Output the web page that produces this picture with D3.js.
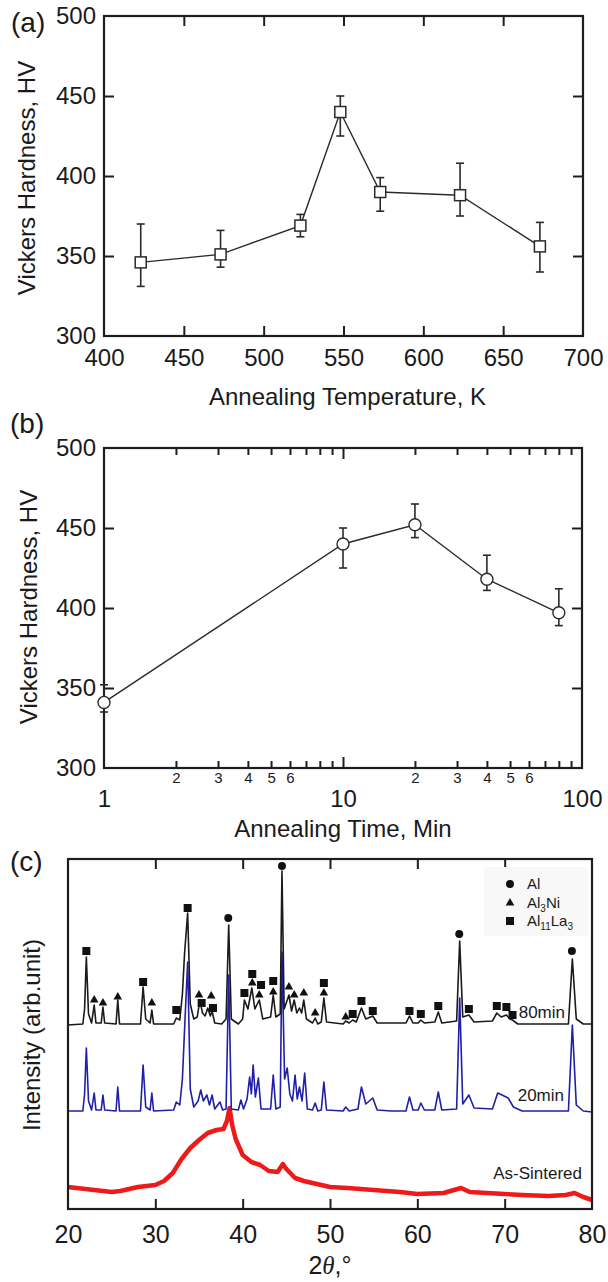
<!DOCTYPE html>
<html><head><meta charset="utf-8">
<script src="https://cdn.jsdelivr.net/npm/d3@7"></script>
<style>
html,body{margin:0;padding:0;background:#fff;}
svg text{font-family:"Liberation Sans",Arial,sans-serif;fill:#1a1a1a;}
</style></head>
<body>
<script>
// ---------- Panel (a) data ----------
const tempK = [423, 473, 523, 548, 573, 623, 673];
const hvTemp = [346, 351, 369, 440, 390, 388, 356];
const hvTempLo = [331, 343, 362, 425, 378, 375, 340];
const hvTempHi = [370, 366, 376, 450, 399, 408, 371];
const tempTicks = [400, 450, 500, 550, 600, 650, 700];
const hvTicks = [300, 350, 400, 450, 500];

// ---------- Panel (b) data ----------
const timeMin = [1, 10, 20, 40, 80];
const hvTime = [341, 440, 452, 418, 397];
const hvTimeLo = [335, 425, 444, 411, 389];
const hvTimeHi = [352, 450, 465, 433, 412];
const timeMajor = [1, 10, 100];
const timeMinor = [2, 3, 4, 5, 6, 7, 8, 9, 20, 30, 40, 50, 60, 70, 80, 90];
const timeMinorLabels = [2, 3, 4, 5, 6, 20, 30, 40, 50, 60];

// ---------- Panel (c) data (2theta, intensity arb.) ----------
const xrd80 = [[20,184],[21.7,185],[21.9,200],[22.1,252],[22.35,195],[22.7,186],[23.0,204],[23.2,186],[23.8,186],[24.0,202],[24.2,186],[25.5,185],[25.7,209],[25.9,185],[28.3,185],[28.6,222],[28.9,190],[29.4,186],[29.6,199],[29.8,185],[32.1,185],[32.4,191],[32.8,189],[33.1,215],[33.35,256],[33.7,296],[34.0,205],[34.4,190],[34.8,192],[35.1,209],[35.4,196],[35.7,193],[36.0,201],[36.3,193],[36.5,198],[36.8,186],[37.6,185],[38.1,190],[38.4,284],[38.7,190],[39.5,185],[40.0,190],[40.2,209],[40.6,200],[41.05,221],[41.4,200],[41.9,209],[42.3,190],[43.2,192],[43.5,214],[43.8,192],[44.3,195],[44.5,338],[44.75,200],[45.3,214],[45.6,198],[45.9,209],[46.2,196],[46.5,201],[46.75,196],[47.0,209],[47.3,190],[48.0,186],[48.3,191],[48.6,185],[49.0,187],[49.3,211],[49.6,187],[51.5,185],[51.8,188],[52.2,186],[52.6,189],[53.0,187],[53.6,201],[54.1,190],[54.9,193],[55.4,186],[58.7,186],[59.1,193],[59.5,186],[60.1,186],[60.4,189],[60.8,186],[62.0,187],[62.4,197],[62.8,186],[64.5,188],[64.85,268],[65.2,192],[65.9,194],[66.5,187],[68.6,188],[69.1,196],[69.6,192],[70.2,194],[70.6,190],[70.9,189],[71.5,185],[77.3,185],[77.75,250],[78.2,190],[79,185],[80,185]];
const xrd20 = [[20,98],[21.7,98],[21.9,115],[22.1,161],[22.35,108],[22.7,99],[23.0,116],[23.2,99],[23.8,99],[24.0,114],[24.2,99],[25.5,98],[25.7,122],[25.9,98],[28.3,98],[28.6,144],[28.9,102],[29.4,99],[29.6,116],[29.8,98],[32.1,99],[32.4,107],[32.8,104],[33.1,130],[33.4,190],[33.7,247],[34.0,120],[34.4,102],[34.9,108],[35.2,119],[35.5,108],[35.9,114],[36.2,104],[36.5,114],[36.8,100],[37.4,107],[37.7,99],[38.1,100],[38.4,234],[38.7,100],[39.5,99],[39.8,109],[40.1,100],[40.5,110],[40.8,132],[41.0,115],[41.2,144],[41.45,112],[41.8,131],[42.1,100],[43.2,100],[43.5,134],[43.8,100],[44.3,102],[44.5,257],[44.8,130],[45.1,141],[45.4,115],[45.7,108],[46.0,134],[46.25,110],[46.5,122],[46.8,108],[47.1,136],[47.4,100],[48.0,99],[48.3,106],[48.6,98],[49.0,99],[49.3,127],[49.6,99],[51.5,98],[51.8,102],[52.2,98],[53.2,100],[53.6,122],[54.1,105],[54.9,111],[55.4,99],[57,98],[58.7,98],[59.1,112],[59.5,99],[60.1,99],[60.4,106],[60.8,99],[62.0,99],[62.4,117],[62.8,99],[64.5,100],[64.85,211],[65.2,105],[65.9,114],[66.5,101],[68.6,100],[69.2,116],[69.7,114],[70.4,111],[71.0,102],[72,98],[77.3,98],[77.75,184],[78.2,104],[79,98],[80,97]];
const xrdSintered = [[20,22],[21,21],[22,20],[23,19],[24,18],[25,17],[26,18],[27,20],[28,22],[29,23],[30,24],[31,28],[32,36],[33,50],[34,61],[35,69],[36,76],[37,79],[37.8,80],[38.2,88],[38.5,101],[38.8,84],[39.2,70],[40,54],[41,47],[42,44],[43,38],[44,37],[44.6,45],[45,40],[46,31],[47,28],[48,26],[50,22],[52,21],[55,19],[58,17],[60,15],[63,16],[65,21],[66,17],[68,16],[70,15],[72,14],[75,13],[77,14],[78,16],[79,12],[80,9]];
const markAl = [[38.35,291],[44.5,343],[64.8,275],[77.7,258]];
const markAl3Ni = [[23.0,209],[24.0,206],[25.7,212],[29.6,206],[35.0,214],[36.4,213],[41.1,226],[41.9,214],[43.5,217],[45.3,222],[45.9,214],[47.0,216],[48.3,196],[49.3,216],[51.8,192]];
const markAl11La3 = [[22.1,258],[28.6,227],[32.4,199],[33.7,301],[35.3,206],[36.6,201],[40.2,216],[41.1,235],[42.1,224],[43.5,228],[49.3,226],[52.6,195],[53.6,208],[54.9,198],[59.1,198],[60.4,195],[62.4,203],[65.9,200],[69.1,203],[70.2,202],[70.9,194]];
const twoThetaTicks = [20, 30, 40, 50, 60, 70, 80];

// ---------- drawing ----------
const W = 608, H = 1282;
const svg = d3.select("body").append("svg").attr("width", W).attr("height", H);
const INK = "#1e1e1e";
const FS = 24;

function frame(g, w, h) {
  g.append("rect").attr("x", 0).attr("y", 0).attr("width", w).attr("height", h)
    .attr("fill", "none").attr("stroke", INK).attr("stroke-width", 2.2);
}
function styleAxis(sel, fs) {
  sel.select(".domain").remove();
  sel.selectAll(".tick line").attr("stroke", INK).attr("stroke-width", 2);
  sel.selectAll(".tick text").attr("font-size", fs).attr("fill", INK)
    .style("font-family", '"Liberation Sans", Arial, sans-serif');
}

// ===== Panel (a) =====
{
  const L = 104, T = 16, R = 583, B = 336;
  const w = R - L, h = B - T;
  const g = svg.append("g").attr("transform", `translate(${L},${T})`);
  const x = d3.scaleLinear().domain([400, 700]).range([0, w]);
  const y = d3.scaleLinear().domain([300, 500]).range([h, 0]);
  const inner = tempTicks.slice(1, -1), innerY = hvTicks.slice(1, -1);

  g.append("g").attr("transform", `translate(0,${h})`)
    .call(d3.axisBottom(x).tickValues(tempTicks).tickSizeInner(0).tickSizeOuter(0).tickPadding(13).tickFormat(d3.format("d")))
    .call(s => styleAxis(s, FS));
  g.append("g").call(d3.axisLeft(y).tickValues(hvTicks).tickSizeInner(0).tickSizeOuter(0).tickPadding(8).tickFormat(d3.format("d")))
    .call(s => styleAxis(s, FS));
  g.append("g").attr("transform", `translate(0,${h})`).call(d3.axisBottom(x).tickValues(inner).tickSizeInner(-10).tickSizeOuter(0).tickFormat("")).call(s => styleAxis(s, FS));
  g.append("g").call(d3.axisTop(x).tickValues(inner).tickSizeInner(-10).tickSizeOuter(0).tickFormat("")).call(s => styleAxis(s, FS));
  g.append("g").call(d3.axisLeft(y).tickValues(innerY).tickSizeInner(-10).tickSizeOuter(0).tickFormat("")).call(s => styleAxis(s, FS));
  g.append("g").attr("transform", `translate(${w},0)`).call(d3.axisRight(y).tickValues(innerY).tickSizeInner(-10).tickSizeOuter(0).tickFormat("")).call(s => styleAxis(s, FS));
  frame(g, w, h);

  const pts = tempK.map((t, i) => ({ x: t, y: hvTemp[i], lo: hvTempLo[i], hi: hvTempHi[i] }));
  const eb = g.append("g").attr("stroke", "#2a2a2a").attr("stroke-width", 1.6);
  pts.forEach(p => {
    eb.append("line").attr("x1", x(p.x)).attr("x2", x(p.x)).attr("y1", y(p.lo)).attr("y2", y(p.hi));
    eb.append("line").attr("x1", x(p.x) - 4).attr("x2", x(p.x) + 4).attr("y1", y(p.lo)).attr("y2", y(p.lo));
    eb.append("line").attr("x1", x(p.x) - 4).attr("x2", x(p.x) + 4).attr("y1", y(p.hi)).attr("y2", y(p.hi));
  });
  g.append("path").datum(pts).attr("fill", "none").attr("stroke", "#2a2a2a").attr("stroke-width", 1.4)
    .attr("d", d3.line().x(d => x(d.x)).y(d => y(d.y)));
  g.selectAll("rect.m").data(pts).join("rect").attr("class", "m")
    .attr("x", d => x(d.x) - 5.5).attr("y", d => y(d.y) - 5.5).attr("width", 11).attr("height", 11)
    .attr("fill", "#fff").attr("stroke", "#2a2a2a").attr("stroke-width", 1.5);

  svg.append("text").attr("x", 11).attr("y", 32).attr("font-size", 28).text("(a)");
  svg.append("text").attr("x", (L + R) / 2 + 4).attr("y", 405).attr("text-anchor", "middle").attr("font-size", FS).text("Annealing Temperature, K");
  svg.append("text").attr("transform", `translate(35,178) rotate(-90)`).attr("text-anchor", "middle").attr("font-size", FS).text("Vickers Hardness, HV");
}

// ===== Panel (b) =====
{
  const L = 104, T = 448, R = 582, B = 768;
  const w = R - L, h = B - T;
  const g = svg.append("g").attr("transform", `translate(${L},${T})`);
  const x = d3.scaleLog().domain([1, 100]).range([0, w]);
  const y = d3.scaleLinear().domain([300, 500]).range([h, 0]);
  const innerY = hvTicks.slice(1, -1);

  g.append("g").attr("transform", `translate(0,${h})`)
    .call(d3.axisBottom(x).tickValues(timeMajor).tickSizeInner(0).tickSizeOuter(0).tickPadding(22).tickFormat(d3.format("d")))
    .call(s => styleAxis(s, FS));
  g.append("g").attr("transform", `translate(0,${h})`)
    .call(d3.axisBottom(x).tickValues(timeMinorLabels).tickSizeInner(0).tickSizeOuter(0).tickPadding(4).tickFormat(d => String(d).charAt(0)))
    .call(s => styleAxis(s, 15));
  g.append("g").call(d3.axisLeft(y).tickValues(hvTicks).tickSizeInner(0).tickSizeOuter(0).tickPadding(8).tickFormat(d3.format("d")))
    .call(s => styleAxis(s, FS));
  g.append("g").attr("transform", `translate(0,${h})`).call(d3.axisBottom(x).tickValues([10]).tickSizeInner(-11).tickSizeOuter(0).tickFormat("")).call(s => styleAxis(s, FS));
  g.append("g").call(d3.axisTop(x).tickValues([10]).tickSizeInner(-11).tickSizeOuter(0).tickFormat("")).call(s => styleAxis(s, FS));
  g.append("g").attr("transform", `translate(0,${h})`).call(d3.axisBottom(x).tickValues(timeMinor).tickSizeInner(-7).tickSizeOuter(0).tickFormat("")).call(s => styleAxis(s, FS));
  g.append("g").call(d3.axisTop(x).tickValues(timeMinor).tickSizeInner(-7).tickSizeOuter(0).tickFormat("")).call(s => styleAxis(s, FS));
  g.append("g").call(d3.axisLeft(y).tickValues(innerY).tickSizeInner(-10).tickSizeOuter(0).tickFormat("")).call(s => styleAxis(s, FS));
  g.append("g").attr("transform", `translate(${w},0)`).call(d3.axisRight(y).tickValues(innerY).tickSizeInner(-10).tickSizeOuter(0).tickFormat("")).call(s => styleAxis(s, FS));
  frame(g, w, h);

  const pts = timeMin.map((t, i) => ({ x: t, y: hvTime[i], lo: hvTimeLo[i], hi: hvTimeHi[i] }));
  const eb = g.append("g").attr("stroke", "#2a2a2a").attr("stroke-width", 1.6);
  pts.forEach(p => {
    eb.append("line").attr("x1", x(p.x)).attr("x2", x(p.x)).attr("y1", y(p.lo)).attr("y2", y(p.hi));
    eb.append("line").attr("x1", x(p.x) - 4).attr("x2", x(p.x) + 4).attr("y1", y(p.lo)).attr("y2", y(p.lo));
    eb.append("line").attr("x1", x(p.x) - 4).attr("x2", x(p.x) + 4).attr("y1", y(p.hi)).attr("y2", y(p.hi));
  });
  g.append("path").datum(pts).attr("fill", "none").attr("stroke", "#2a2a2a").attr("stroke-width", 1.4)
    .attr("d", d3.line().x(d => x(d.x)).y(d => y(d.y)));
  g.selectAll("circle.m").data(pts).join("circle").attr("class", "m")
    .attr("cx", d => x(d.x)).attr("cy", d => y(d.y)).attr("r", 6)
    .attr("fill", "#fff").attr("stroke", "#2a2a2a").attr("stroke-width", 1.4);

  svg.append("text").attr("x", 10).attr("y", 433).attr("font-size", 28).text("(b)");
  svg.append("text").attr("x", (L + R) / 2).attr("y", 837).attr("text-anchor", "middle").attr("font-size", FS).text("Annealing Time, Min");
  svg.append("text").attr("transform", `translate(37,607) rotate(-90)`).attr("text-anchor", "middle").attr("font-size", FS).text("Vickers Hardness, HV");
}

// ===== Panel (c) =====
{
  const L = 68, T = 859, R = 592, B = 1209;
  const w = R - L, h = B - T;
  const g = svg.append("g").attr("transform", `translate(${L},${T})`);
  const x = d3.scaleLinear().domain([20, 80]).range([0, w]);
  const y = d3.scaleLinear().domain([0, 350]).range([h, 0]);
  const inner = twoThetaTicks.slice(1, -1);

  g.append("g").attr("transform", `translate(0,${h})`)
    .call(d3.axisBottom(x).tickValues(twoThetaTicks).tickSizeInner(0).tickSizeOuter(0).tickPadding(16).tickFormat(d3.format("d")))
    .call(s => styleAxis(s, 25));
  g.append("g").attr("transform", `translate(0,${h})`).call(d3.axisBottom(x).tickValues(inner).tickSizeInner(-10).tickSizeOuter(0).tickFormat("")).call(s => styleAxis(s, FS));
  g.append("g").call(d3.axisTop(x).tickValues(inner).tickSizeInner(-10).tickSizeOuter(0).tickFormat("")).call(s => styleAxis(s, FS));

  // legend background
  g.append("rect").attr("x", 484 - L).attr("y", 867 - T).attr("width", 104).attr("height", 69).attr("fill", "#f8f8f8");

  const line = d3.line().x(d => x(d[0])).y(d => y(d[1]));
  g.append("path").datum(xrdSintered).attr("fill", "none").attr("stroke", "#ee1a1a").attr("stroke-width", 4.5)
    .attr("stroke-linejoin", "round").attr("d", line);
  g.append("path").datum(xrd20).attr("fill", "none").attr("stroke", "#1f1fa8").attr("stroke-width", 1.6)
    .attr("stroke-linejoin", "round").attr("d", line);
  g.append("path").datum(xrd80).attr("fill", "none").attr("stroke", "#1a1a1a").attr("stroke-width", 1.6)
    .attr("stroke-linejoin", "round").attr("d", line);

  const sym = (type, size) => d3.symbol().type(type).size(size)();
  g.selectAll("path.al").data(markAl).join("path").attr("class", "al")
    .attr("transform", d => `translate(${x(d[0])},${y(d[1])})`).attr("d", sym(d3.symbolCircle, 50)).attr("fill", "#111");
  g.selectAll("path.ni").data(markAl3Ni).join("path").attr("class", "ni")
    .attr("transform", d => `translate(${x(d[0])},${y(d[1])})`).attr("d", sym(d3.symbolTriangle, 32)).attr("fill", "#111");
  g.selectAll("path.la").data(markAl11La3).join("path").attr("class", "la")
    .attr("transform", d => `translate(${x(d[0])},${y(d[1])})`).attr("d", sym(d3.symbolSquare, 64)).attr("fill", "#111");

  frame(g, w, h);

  const lg = svg.append("g");
  lg.append("path").attr("transform", "translate(510,884)").attr("d", sym(d3.symbolCircle, 50)).attr("fill", "#111");
  lg.append("path").attr("transform", "translate(510,903)").attr("d", sym(d3.symbolTriangle, 32)).attr("fill", "#111");
  lg.append("path").attr("transform", "translate(510,921)").attr("d", sym(d3.symbolSquare, 64)).attr("fill", "#111");
  lg.append("text").attr("x", 527).attr("y", 889).attr("font-size", 15).text("Al");
  const t2 = lg.append("text").attr("x", 527).attr("y", 908).attr("font-size", 15);
  t2.append("tspan").text("Al");
  t2.append("tspan").attr("font-size", 10).attr("dy", 4).text("3");
  t2.append("tspan").attr("dy", -4).text("Ni");
  const t3 = lg.append("text").attr("x", 527).attr("y", 926).attr("font-size", 15);
  t3.append("tspan").text("Al");
  t3.append("tspan").attr("font-size", 10).attr("dy", 4).text("11");
  t3.append("tspan").attr("dy", -4).text("La");
  t3.append("tspan").attr("font-size", 10).attr("dy", 4).text("3");

  svg.append("text").attr("x", 565).attr("y", 1018).attr("text-anchor", "end").attr("font-size", 17).text("80min");
  svg.append("text").attr("x", 564).attr("y", 1101).attr("text-anchor", "end").attr("font-size", 17).text("20min");
  svg.append("text").attr("x", 582).attr("y", 1179).attr("text-anchor", "end").attr("font-size", 17).text("As-Sintered");

  svg.append("text").attr("x", 10).attr("y", 871).attr("font-size", 28).text("(c)");
  svg.append("text").attr("transform", `translate(40,1035) rotate(-90)`).attr("text-anchor", "middle").attr("font-size", FS).text("Intensity (arb.unit)");
  const xt = svg.append("text").attr("x", 330).attr("y", 1274).attr("text-anchor", "middle").attr("font-size", 25);
  xt.append("tspan").text("2");
  xt.append("tspan").attr("font-style", "italic").style("font-family", '"Liberation Serif", "Times New Roman", serif').text("θ");
  xt.append("tspan").text(",°");
}
</script>
</body></html>
